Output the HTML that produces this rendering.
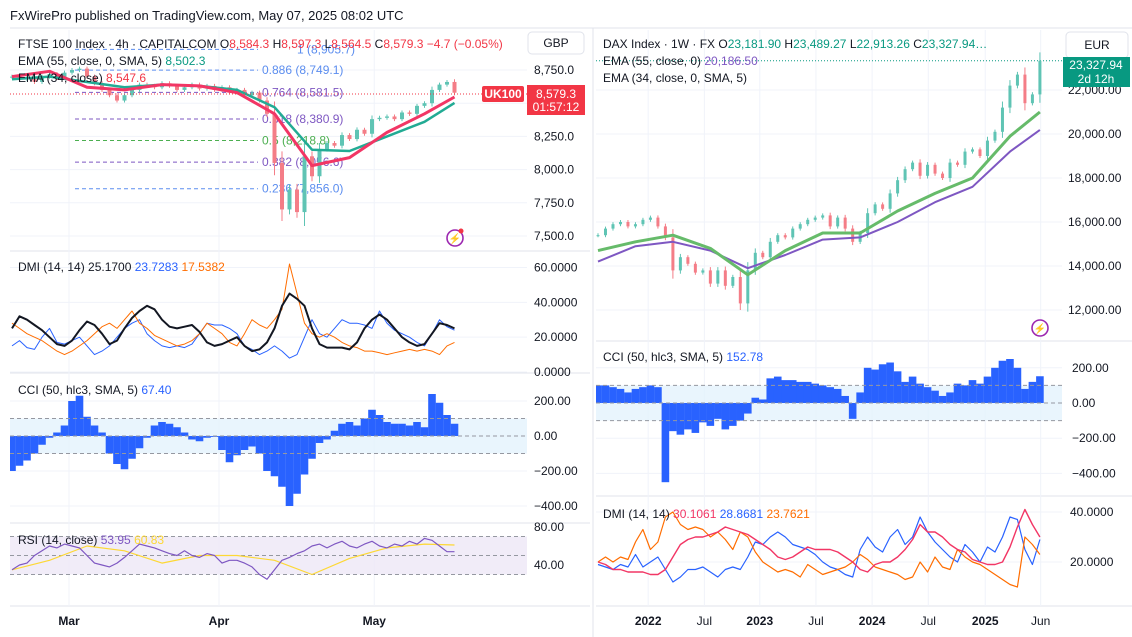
<!DOCTYPE html>
<html><head><meta charset="utf-8">
<style>
html,body{margin:0;padding:0;background:#fff;width:1132px;height:637px;overflow:hidden}
svg{display:block;font-family:"Liberation Sans",sans-serif}
</style></head><body>
<svg id="chart" width="1132" height="637" viewBox="0 0 1132 637" xmlns="http://www.w3.org/2000/svg">
<rect x="0" y="0" width="1132" height="637" fill="#fff"/>
<text x="10" y="20" font-size="13" fill="#131722">FxWirePro published on TradingView.com, May 07, 2025 08:02 UTC</text>
<g id="layer"></g>
</svg>
<script>
// ---------- LEFT: FTSE 100 4h ----------
const ftseClose=[8700,8680,8690,8660,8700,8720,8690,8730,8750,8760,8700,8650,8600,8560,8520,8560,8600,8640,8630,8620,8650,8630,8600,8620,8640,8610,8630,8600,8620,8580,8600,8560,8580,8520,8420,8050,7700,7850,7680,8100,7950,8150,8200,8180,8260,8230,8300,8270,8380,8390,8400,8380,8430,8420,8480,8500,8600,8640,8660,8579];
const ftseEma55=[8680,8700,8660,8620,8640,8630,8600,8470,8150,8140,8250,8360,8502];
const ftseEma34=[8700,8740,8620,8600,8640,8630,8580,8420,8030,8090,8280,8420,8547];
const fibRatios=["1","0.886","0.764","0.618","0.5","0.382","0.236"];
const fibValues=[8905.7,8749.1,8581.5,8380.9,8218.8,8056.6,7856.0];
const ftsePriceTicks=[8750,8500,8250,8000,7750,7500];
const ftsePriceTickLabels=["8,750.0","","8,250.0","8,000.0","7,750.0","7,500.0"];
const ftseAdx=[25,32,30,27,24,20,16,15,18,24,29,27,22,16,18,25,31,35,38,36,30,26,25,26,27,23,17,15,16,18,20,15,12,13,17,25,38,45,42,38,25,16,14,14,14,13,17,25,30,33,30,25,20,17,15,16,22,28,27,25];
const ftsePlusDi=[15,18,14,13,20,25,17,16,18,20,15,10,12,15,20,25,28,30,22,18,15,14,15,14,16,22,28,27,27,25,22,15,13,10,12,15,12,8,10,20,30,22,20,25,30,28,28,27,25,35,28,24,22,20,17,15,22,30,26,24];
const ftseMinusDi=[28,25,22,20,18,15,12,10,12,15,18,22,26,28,25,30,35,28,25,21,19,17,15,16,18,22,28,25,22,17,15,22,30,27,25,30,36,62,45,28,22,20,22,20,17,15,14,12,12,11,10,11,12,13,12,13,12,10,15,17];
const ftseDmiTicks=[60,40,20,0];
const ftseCci=[-200,-170,-140,-100,-50,-10,20,60,200,230,110,60,20,-100,-160,-190,-130,-70,-10,60,80,70,50,20,-20,-30,-10,-5,-80,-150,-110,-80,-60,-100,-200,-230,-290,-400,-330,-220,-130,-40,-20,30,70,80,60,100,150,120,80,70,70,60,80,50,240,190,120,70];
const ftseCciTicks=[200,0,-200,-400];
const ftseRsi=[35,40,42,50,55,60,58,62,60,58,50,42,40,38,42,48,55,62,60,58,55,52,50,55,50,48,52,50,42,45,45,42,38,30,25,35,45,48,52,55,60,62,58,62,65,60,58,62,65,60,58,62,60,65,62,68,66,60,54,54];
const ftseRsiMa=[35,45,60,55,42,50,50,45,30,47,58,62,61];
const ftseRsiTicks=[80,40];
const ftseMonths=["Mar","Apr","May"];
const ftseMonthBars=[7.6,27.6,48.3];
// ---------- RIGHT: DAX 1W ----------
const daxClose=[15400,15700,15900,16000,15800,15900,16100,16200,15800,15300,13800,14400,14100,13700,13800,13200,13800,13100,13500,12300,13800,14600,14400,15100,15400,15300,15700,15900,16100,16200,16300,15800,16200,15700,15100,15500,16400,16800,16600,17300,17900,18400,18700,18100,18600,18200,18000,18700,18600,19200,19300,19000,19700,20100,21200,22200,22700,21400,21800,23328];
const daxEma55=[14700,15100,15400,14800,13600,14700,15500,15500,16500,17300,18000,19900,21000];
const daxEma34=[14200,14900,15100,14700,13900,14500,15200,15300,16000,16900,17600,19200,20186];
const daxPriceTicks=[22000,20000,18000,16000,14000,12000];
const daxPriceTickLabels=["22,000.00","20,000.00","18,000.00","16,000.00","14,000.00","12,000.00"];
const daxCci=[100,100,90,80,60,80,90,100,90,-450,-160,-180,-150,-170,-110,-130,-90,-150,-130,-100,-60,30,20,140,150,130,130,120,120,110,100,90,80,40,-90,60,200,190,220,230,180,120,150,110,90,70,40,60,110,100,130,110,150,200,240,250,200,80,120,152];
const daxCciTicks=[200,0,-200,-400];
const daxAdx=[20,19,17,17,16,16,16,15,15,17,22,27,29,30,30,31,32,34,33,32,31,29,27,25,22,21,22,24,26,25,25,25,24,22,20,17,16,19,20,20,22,25,29,35,32,32,30,27,25,24,21,20,19,19,20,26,34,41,35,30];
const daxPlusDi=[19,18,17,19,18,23,18,20,22,17,12,14,17,17,18,16,14,17,18,17,22,28,27,30,32,30,27,26,25,23,20,18,17,15,14,25,30,26,24,30,33,27,30,38,32,28,25,22,20,27,24,20,26,24,30,38,37,25,19,29];
const daxMinusDi=[20,22,20,22,21,28,33,25,28,38,40,35,33,34,33,30,32,29,25,32,30,24,20,18,16,17,16,14,19,17,15,16,17,18,20,23,21,18,17,16,15,13,14,20,16,22,18,17,25,22,20,19,17,15,13,11,10,30,27,23];
const daxDmiTicks=[40,20];
const daxYears=["2022","Jul","2023","Jul","2024","Jul","2025","Jun"];
const daxYearBars=[6.7,14.2,21.6,29.1,36.6,44.1,51.7,59.1];

const NS="http://www.w3.org/2000/svg";
const layer=document.getElementById('layer');
function mk(tag,attrs,parent){const e=document.createElementNS(NS,tag);for(const k in attrs)e.setAttribute(k,attrs[k]);(parent||layer).appendChild(e);return e;}
function txt(x,y,s,fill,size,parent,anchor){const t=mk('text',{x:x,y:y,fill:fill||'#131722','font-size':size||12,'text-anchor':anchor||'start'},parent);t.textContent=s;return t;}

const xL=i=>12+7.5*i, xR=i=>598+7.49*i;
const yLP=v=>70+(8750-v)*33.2/250;
const yLD=v=>372-v*1.742;
const yLC=v=>436-v*0.175;
const yLR=v=>527+(80-v)*0.95;
const yRP=v=>90+(22000-v)*0.022;
const yRC=v=>403-v*0.176;
const yRD=v=>562-(v-20)*2.5;
const emaIdx=k=>Math.min(k*5,59);

const defs=mk('defs',{});
function clip(id,x,y,w,h){const c=mk('clipPath',{id:id},defs);mk('rect',{x:x,y:y,width:w,height:h},c);}
clip('cLP',10,30,517,221);clip('cLD',10,252,517,120);clip('cLC',10,374,517,149);clip('cLR',10,524,517,81);
clip('cRP',596,30,466,310);clip('cRC',596,342,466,153);clip('cRD',596,497,466,108);

mk('line',{x1:593,y1:28,x2:593,y2:637,stroke:'#e0e3eb','stroke-width':1});
[[251,10,590],[373,10,590],[523,10,590],[341,596,1132],[496,596,1132],[606,10,590],[606,596,1132]].forEach(a=>{mk('line',{x1:a[1],y1:a[0],x2:a[2],y2:a[0],stroke:'#e0e3eb'});});
mk('line',{x1:10,y1:28,x2:1132,y2:28,stroke:'#e0e3eb'});

ftseMonthBars.forEach(b=>mk('line',{x1:xL(b),y1:30,x2:xL(b),y2:606,stroke:'#f0f3fa'}));
daxYearBars.forEach(b=>mk('line',{x1:xR(b),y1:30,x2:xR(b),y2:606,stroke:'#f0f3fa'}));
ftsePriceTicks.forEach(v=>mk('line',{x1:10,y1:yLP(v),x2:527,y2:yLP(v),stroke:'#f0f3fa'}));
ftseDmiTicks.forEach(v=>mk('line',{x1:10,y1:yLD(v),x2:527,y2:yLD(v),stroke:'#f0f3fa'}));
ftseCciTicks.forEach(v=>mk('line',{x1:10,y1:yLC(v),x2:527,y2:yLC(v),stroke:'#f0f3fa'}));
daxPriceTicks.forEach(v=>mk('line',{x1:596,y1:yRP(v),x2:1062,y2:yRP(v),stroke:'#f0f3fa'}));
daxCciTicks.forEach(v=>mk('line',{x1:596,y1:yRC(v),x2:1062,y2:yRC(v),stroke:'#f0f3fa'}));
daxDmiTicks.forEach(v=>mk('line',{x1:596,y1:yRD(v),x2:1062,y2:yRD(v),stroke:'#f0f3fa'}));

function candles(arr,xs,ys,w,clipId,name){
  const g=mk('g',{'clip-path':'url(#'+clipId+')'});
  
  
  arr.forEach((c,i)=>{const o=i?arr[i-1]:c;const up=c>=o;const col=up?'#5fc4b4':'#f47d87';
    const y1=ys(Math.max(o,c)),y2=ys(Math.min(o,c));const ext=Math.max(2,(y2-y1)*0.25);
    mk('line',{x1:xs(i),y1:y1-ext,x2:xs(i),y2:y2+ext,stroke:col,'stroke-width':1},g);
    const r=mk('rect',{x:xs(i)-w/2,y:y1,width:w,height:Math.max(1,y2-y1),fill:col},g);
    
    
  });
}
function line(arr,xs,ys,col,sw,clipId,name,idxFn){
  const d=arr.map((v,i)=>(i?'L':'M')+xs(idxFn?idxFn(i):i).toFixed(1)+','+ys(v).toFixed(1)).join('');
  const p=mk('path',{d:d,fill:'none',stroke:col,'stroke-width':sw,'stroke-linejoin':'round','clip-path':'url(#'+clipId+')'});
  
  
}
function hist(arr,xs,ys,w,col,clipId,name){
  const g=mk('g',{'clip-path':'url(#'+clipId+')'});
  
  
  arr.forEach((v,i)=>{const y0=ys(0),y=ys(v);const r=mk('rect',{x:xs(i)-w/2,y:Math.min(y,y0),width:w,height:Math.abs(y-y0),fill:col},g);
    
    });
}

fibValues.forEach((v,i)=>{const col=['#5b8def','#5b8def','#7e57c2','#7e57c2','#4caf50','#7e57c2','#5b8def'][i];
  const l=mk('line',{x1:75,y1:yLP(v),x2:258,y2:yLP(v),stroke:col,'stroke-dasharray':'4 3','stroke-width':1});
  
  
  const t=txt(i==0?297:262,yLP(v)+4,fibRatios[i]+' ('+v.toLocaleString('en-US',{minimumFractionDigits:1,maximumFractionDigits:1})+')',col,12);
  
  
});
candles(ftseClose,xL,yLP,4,'cLP','ftse-candles');
line(ftseEma55,xL,yLP,'#22ab94',2.5,'cLP','ftse-ema55-line',emaIdx);
line(ftseEma34,xL,yLP,'#f23665',3,'cLP','ftse-ema34-line',emaIdx);
mk('line',{x1:10,y1:94,x2:527,y2:94,stroke:'#f23645','stroke-dasharray':'1 2'});
line(ftsePlusDi,xL,yLD,'#2962ff',1,'cLD','ftse-plus-di-line');
line(ftseMinusDi,xL,yLD,'#ff6d00',1,'cLD','ftse-minus-di-line');
line(ftseAdx,xL,yLD,'#131722',2,'cLD','ftse-adx-line');
mk('rect',{x:10,y:yLC(100),width:517,height:yLC(-100)-yLC(100),fill:'#e3f2fd',opacity:0.8});
hist(ftseCci,xL,yLC,7.6,'#2962ff','cLC','ftse-cci-histogram');
[100,0,-100].forEach(v=>mk('line',{x1:10,y1:yLC(v),x2:527,y2:yLC(v),stroke:'#9598a1','stroke-dasharray':'4 3'}));
mk('rect',{x:10,y:yLR(70),width:517,height:yLR(30)-yLR(70),fill:'#ede7f6',opacity:0.8});
[70,50,30].forEach(v=>mk('line',{x1:10,y1:yLR(v),x2:527,y2:yLR(v),stroke:'#9598a1','stroke-dasharray':'4 3'}));
line(ftseRsiMa,xL,yLR,'#fdd835',1.2,'cLR','ftse-rsi-ma-line',emaIdx);
line(ftseRsi,xL,yLR,'#7e57c2',1.2,'cLR','ftse-rsi-line');

mk('line',{x1:596,y1:yRP(23328),x2:1062,y2:yRP(23328),stroke:'#089981','stroke-dasharray':'1 2'});
candles(daxClose,xR,yRP,3,'cRP','dax-candles');
line(daxEma34,xR,yRP,'#7e57c2',2,'cRP','dax-ema34-line',emaIdx);
line(daxEma55,xR,yRP,'#66bb6a',3,'cRP','dax-ema55-line',emaIdx);
mk('rect',{x:596,y:yRC(100),width:466,height:yRC(-100)-yRC(100),fill:'#e3f2fd',opacity:0.8});
hist(daxCci,xR,yRC,7.6,'#2962ff','cRC','dax-cci-histogram');
[100,0,-100].forEach(v=>mk('line',{x1:596,y1:yRC(v),x2:1062,y2:yRC(v),stroke:'#9598a1','stroke-dasharray':'4 3'}));
line(daxPlusDi,xR,yRD,'#2962ff',1.2,'cRD','dax-plus-di-line');
line(daxMinusDi,xR,yRD,'#ff6d00',1.2,'cRD','dax-minus-di-line');
line(daxAdx,xR,yRD,'#f23665',1.4,'cRD','dax-adx-line');

ftsePriceTicks.forEach((v,i)=>{if(ftsePriceTickLabels[i]){const t=txt(534,yLP(v)+4,ftsePriceTickLabels[i]);}});
ftseDmiTicks.forEach(v=>{txt(534,yLD(v)+4,v.toFixed(4));});
ftseCciTicks.forEach(v=>{txt(534,yLC(v)+4,(v<0?'−':'')+Math.abs(v).toFixed(2));});
ftseRsiTicks.forEach(v=>{txt(534,yLR(v)+4,v.toFixed(2));});
ftseMonths.forEach((m,i)=>{const t=txt(xL(ftseMonthBars[i]),625,m,'#131722',12,null,'middle');t.setAttribute('font-weight','bold');});
daxPriceTicks.forEach((v,i)=>{txt(1068,yRP(v)+4,daxPriceTickLabels[i]);});
daxCciTicks.forEach(v=>{txt(1072,yRC(v)+4,(v<0?'−':'')+Math.abs(v).toFixed(2));});
daxDmiTicks.forEach(v=>{txt(1070,yRD(v)+4,v.toFixed(4));});
daxYears.forEach((m,i)=>{const t=txt(xR(daxYearBars[i]),625,m,'#131722',12,null,'middle');if(/^\d/.test(m))t.setAttribute('font-weight','bold');});

function legend(x,y,parts,name){const t=mk('text',{x:x,y:y,'font-size':12});
  parts.forEach(p=>{const s=mk('tspan',{fill:p[1]},t);s.textContent=p[0];});}
legend(18,48,[['FTSE 100 Index · 4h · CAPITALCOM O','#131722'],['8,584.3','#f23645'],[' H','#131722'],['8,597.3','#f23645'],[' L','#131722'],['8,564.5','#f23645'],[' C','#131722'],['8,579.3 −4.7 (−0.05%)','#f23645']],'ftse-ohlc-legend');
legend(18,65,[['EMA (55, close, 0, SMA, 5) ','#131722'],['8,502.3','#089981']],'ftse-ema55-legend');
legend(18,82,[['EMA (34, close) ','#131722'],['8,547.6','#f23645']],'ftse-ema34-legend');
legend(18,271,[['DMI (14, 14) 25.1700 ','#131722'],['23.7283 ','#2962ff'],['17.5382','#ff6d00']],'ftse-dmi-legend');
legend(18,394,[['CCI (50, hlc3, SMA, 5) ','#131722'],['67.40','#2962ff']],'ftse-cci-legend');
legend(18,544,[['RSI (14, close) ','#131722'],['53.95 ','#7e57c2'],['60.83','#fdd835']],'ftse-rsi-legend');
legend(603,48,[['DAX Index · 1W · FX O','#131722'],['23,181.90','#089981'],[' H','#131722'],['23,489.27','#089981'],[' L','#131722'],['22,913.26','#089981'],[' C','#131722'],['23,327.94…','#089981']],'dax-ohlc-legend');
legend(603,65,[['EMA (55, close, 0) ','#131722'],['20,186.50','#7e57c2']],'dax-ema55-legend');
legend(603,82,[['EMA (34, close, 0, SMA, 5)','#131722']],'dax-ema34-legend');
legend(603,361,[['CCI (50, hlc3, SMA, 5) ','#131722'],['152.78','#2962ff']],'dax-cci-legend');
legend(603,518,[['DMI (14, 14) ','#131722'],['30.1061 ','#f23665'],['28.8681 ','#2962ff'],['23.7621','#ff6d00']],'dax-dmi-legend');

function btn(x,y,w,h,label,name){const g=mk('g',{});
  mk('rect',{x:x,y:y,width:w,height:h,rx:4,fill:'#fff',stroke:'#e0e3eb'},g);txt(x+w/2,y+h/2+4,label,'#131722',12,g,'middle');}
btn(528,32,56,22,'GBP','currency-button-gbp');
btn(1066,32,62,26,'EUR','currency-button-eur');
let g=mk('g',{});
mk('rect',{x:482,y:86,width:42,height:16,rx:2,fill:'#f23645'},g);txt(503,98,'UK100','#fff',12,g,'middle').setAttribute('font-weight','bold');
g=mk('g',{});
mk('rect',{x:527,y:85,width:58,height:30,fill:'#f23645'},g);txt(556,98,'8,579.3','#fff',12,g,'middle');txt(556,111,'01:57:12','#fff',12,g,'middle');
g=mk('g',{});
mk('rect',{x:1063,y:57,width:67,height:30,fill:'#089981'},g);txt(1096,69,'23,327.94','#fff',12,g,'middle');txt(1096,83,'2d 12h','#fff',12,g,'middle');
[[455,238],[1040,328]].forEach((p,i)=>{const h=mk('g',{});
  mk('circle',{cx:p[0],cy:p[1],r:8,fill:'#fff',stroke:'#9c27b0','stroke-width':1.6},h);txt(p[0],p[1]+4,'⚡','#9c27b0',10,h,'middle');
  if(!i)mk('circle',{cx:p[0]+6,cy:p[1]-7,r:2.5,fill:'#f23645'},h);});
</script>
</body></html>
